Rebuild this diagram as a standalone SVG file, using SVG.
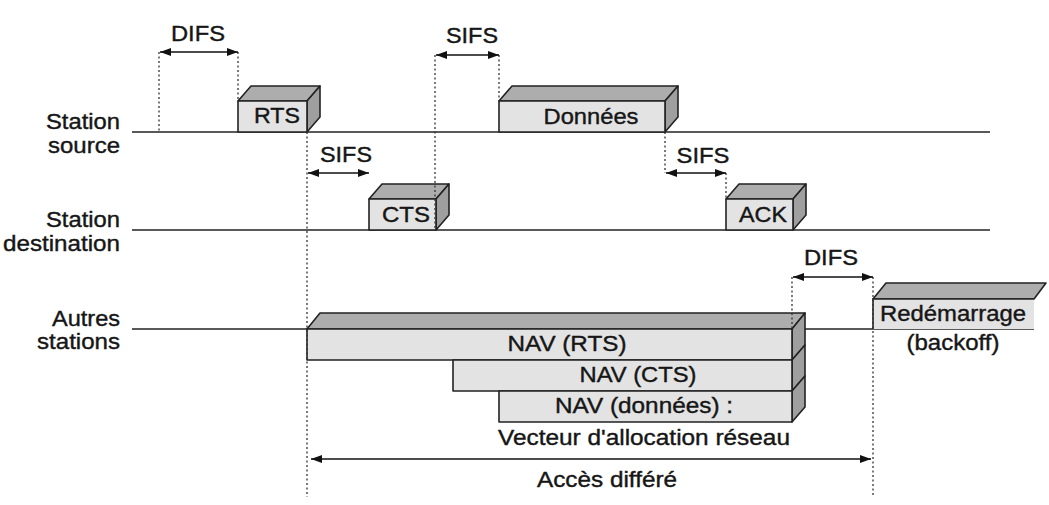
<svg xmlns="http://www.w3.org/2000/svg" width="1049" height="505" viewBox="0 0 1049 505">
<defs>
<style>
.t{font-family:"Liberation Sans",Arial,Helvetica,sans-serif;font-size:22.5px;fill:#161616;stroke:#161616;stroke-width:0.4}
.m{text-anchor:middle}
.e{text-anchor:end}
.ln{stroke:#222;stroke-width:1.6;fill:none}
.dot{stroke:#333;stroke-width:1.3;stroke-dasharray:2 2.5;fill:none}
.arr{stroke:#111;stroke-width:1.5;fill:none;marker-start:url(#ah);marker-end:url(#ah)}
.front{fill:#e3e3e3;stroke:#222;stroke-width:1.6;stroke-linejoin:round}
.top{fill:#adadad;stroke:#222;stroke-width:1.6;stroke-linejoin:round}
.side{fill:#9f9f9f;stroke:#222;stroke-width:1.6;stroke-linejoin:round}
.ff{fill:#e3e3e3}
</style>
<marker id="ah" viewBox="0 0 11 8" refX="11" refY="4" markerWidth="11" markerHeight="8" markerUnits="userSpaceOnUse" orient="auto-start-reverse">
<path d="M0,0 L11,4 L0,8 z" fill="#111"/>
</marker>
</defs>
<rect width="1049" height="505" fill="#fff"/>

<g id="labels">
<text class="t e" x="120" y="129" textLength="74" lengthAdjust="spacingAndGlyphs">Station</text>
<text class="t e" x="120" y="153" textLength="72" lengthAdjust="spacingAndGlyphs">source</text>
<text class="t e" x="120" y="227" textLength="74" lengthAdjust="spacingAndGlyphs">Station</text>
<text class="t e" x="120" y="251" textLength="117" lengthAdjust="spacingAndGlyphs">destination</text>
<text class="t e" x="120" y="326" textLength="68" lengthAdjust="spacingAndGlyphs">Autres</text>
<text class="t e" x="120" y="349" textLength="83" lengthAdjust="spacingAndGlyphs">stations</text>
</g>

<g id="timelines">
<line class="ln" x1="132" y1="132" x2="990" y2="132"/>
<line class="ln" x1="132" y1="230" x2="990" y2="230"/>
<line class="ln" x1="132" y1="329" x2="1034" y2="329"/>
</g>

<g id="rts">
<polygon class="top" points="238,101 251,86 320,86 307,101"/>
<polygon class="side" points="307,101 320,86 320,117 307,132"/>
<rect class="front" x="238" y="101" width="69" height="31"/>
<text class="t m" x="277" y="123" textLength="46" lengthAdjust="spacingAndGlyphs">RTS</text>
</g>

<g id="donnees">
<polygon class="top" points="499,101 512,86 678,86 665,101"/>
<polygon class="side" points="665,101 678,86 678,117 665,132"/>
<rect class="front" x="499" y="101" width="166" height="31"/>
<text class="t m" x="591" y="124" textLength="95" lengthAdjust="spacingAndGlyphs">Données</text>
</g>

<g id="cts">
<polygon class="top" points="369,199 382,184 449,184 436,199"/>
<polygon class="side" points="436,199 449,184 449,215 436,230"/>
<rect class="front" x="369" y="199" width="67" height="31"/>
<text class="t m" x="406" y="222" textLength="48" lengthAdjust="spacingAndGlyphs">CTS</text>
</g>

<g id="ack">
<polygon class="top" points="726,199 739,184 806,184 793,199"/>
<polygon class="side" points="793,199 806,184 806,215 793,230"/>
<rect class="front" x="726" y="199" width="67" height="31"/>
<text class="t m" x="763" y="222" textLength="48" lengthAdjust="spacingAndGlyphs">ACK</text>
</g>

<g id="nav">
<polygon class="top" points="307,329 320,313 805,313 792,329"/>
<polygon class="side" points="792,329 805,313 805,345 792,360"/>
<polygon class="side" points="792,360 805,345 805,376 792,391"/>
<polygon class="side" points="792,391 805,376 805,407 792,422"/>
<rect class="front" x="307" y="329" width="485" height="31"/>
<rect class="front" x="453" y="360" width="339" height="31"/>
<rect class="front" x="499" y="391" width="293" height="31"/>
<text class="t m" x="567" y="351" textLength="119" lengthAdjust="spacingAndGlyphs">NAV (RTS)</text>
<text class="t m" x="638" y="382" textLength="117" lengthAdjust="spacingAndGlyphs">NAV (CTS)</text>
<text class="t m" x="644" y="413" textLength="178" lengthAdjust="spacingAndGlyphs">NAV (données) :</text>
<text class="t m" x="644" y="445" textLength="292" lengthAdjust="spacingAndGlyphs">Vecteur d'allocation réseau</text>
</g>

<g id="redemarrage">
<polygon class="top" points="873,299 886,283 1046,283 1034,299"/>
<rect class="ff" x="873" y="299" width="161" height="30"/>
<polyline class="ln" points="1034,299 873,299 873,329"/>
<text class="t m" x="953" y="321" textLength="146" lengthAdjust="spacingAndGlyphs">Redémarrage</text>
<text class="t m" x="953" y="350" textLength="93" lengthAdjust="spacingAndGlyphs">(backoff)</text>
</g>

<g id="connectors">
<line class="dot" x1="159" y1="52" x2="159" y2="132"/>
<line class="dot" x1="238" y1="52" x2="238" y2="101"/>
<line class="dot" x1="307" y1="132" x2="307" y2="497"/>
<line class="dot" x1="435" y1="55" x2="435" y2="230"/>
<line class="dot" x1="499" y1="55" x2="499" y2="101"/>
<line class="dot" x1="665" y1="132" x2="665" y2="173"/>
<line class="dot" x1="726" y1="173" x2="726" y2="199"/>
<line class="dot" x1="792" y1="277" x2="792" y2="329"/>
<line class="dot" x1="873" y1="277" x2="873" y2="497"/>

<line class="arr" x1="160" y1="52" x2="238" y2="52"/>
<line class="arr" x1="436" y1="55" x2="499" y2="55"/>
<line class="arr" x1="308" y1="173" x2="369" y2="173"/>
<line class="arr" x1="666" y1="173" x2="726" y2="173"/>
<line class="arr" x1="793" y1="277" x2="873" y2="277"/>
<line class="arr" x1="311" y1="459" x2="871" y2="459"/>

<text class="t m" x="198" y="41" textLength="54" lengthAdjust="spacingAndGlyphs">DIFS</text>
<text class="t m" x="472" y="43" textLength="52" lengthAdjust="spacingAndGlyphs">SIFS</text>
<text class="t m" x="346" y="162" textLength="52" lengthAdjust="spacingAndGlyphs">SIFS</text>
<text class="t m" x="703" y="163" textLength="53" lengthAdjust="spacingAndGlyphs">SIFS</text>
<text class="t m" x="831" y="265" textLength="54" lengthAdjust="spacingAndGlyphs">DIFS</text>
<text class="t m" x="607" y="487" textLength="140" lengthAdjust="spacingAndGlyphs">Accès différé</text>
</g>
</svg>
